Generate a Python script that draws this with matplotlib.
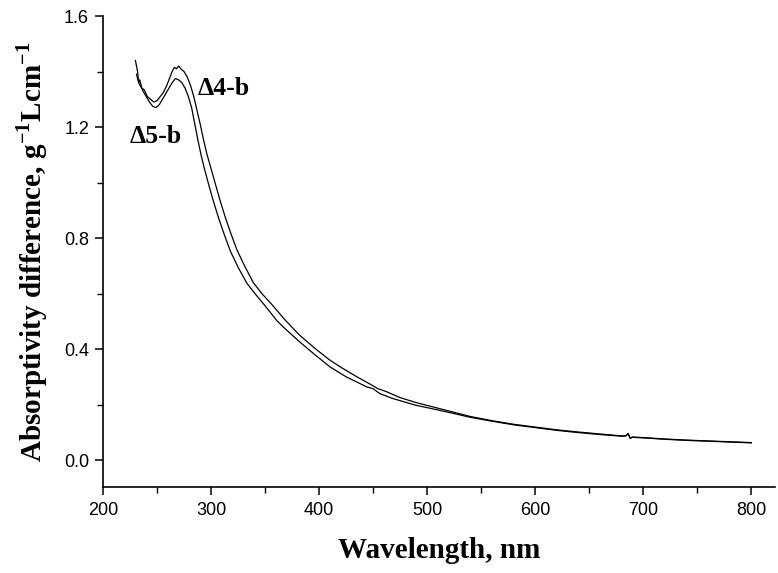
import matplotlib
matplotlib.use("Agg")
import matplotlib.pyplot as plt
from matplotlib.ticker import MultipleLocator

# Δ4-b (upper curve)
wl_4b = [230, 232, 233, 234, 236, 238, 241, 244, 247, 250, 253, 256, 259, 262, 264, 266, 268, 270,
         272, 275, 278, 281, 284, 287, 290, 293, 296, 300, 304, 308, 313, 318, 324, 331, 339, 347,
         356, 368, 382, 396, 410, 422, 435, 448, 454, 462, 475, 490, 500, 520, 540, 560, 580, 600,
         620, 640, 660, 680, 684, 686, 688, 690, 700, 720, 740, 760, 780, 800]
ab_4b = [1.44, 1.40, 1.36, 1.37, 1.34, 1.335, 1.31, 1.30, 1.29, 1.295, 1.31, 1.325, 1.35, 1.38, 1.40,
         1.415, 1.41, 1.42, 1.41, 1.40, 1.38, 1.35, 1.31, 1.26, 1.21, 1.155, 1.105, 1.05, 0.995, 0.94,
         0.877, 0.82, 0.757, 0.70, 0.640, 0.60, 0.562, 0.507, 0.45, 0.403, 0.36, 0.33, 0.30, 0.272,
         0.258, 0.247, 0.225, 0.207, 0.197, 0.177, 0.157, 0.142, 0.129, 0.119, 0.109, 0.101, 0.094,
         0.087, 0.088, 0.096, 0.079, 0.083, 0.081, 0.076, 0.072, 0.069, 0.066, 0.063]

# Δ5-b (lower curve)
wl_5b = [231, 233, 235, 237, 240, 243, 246, 249, 252, 255, 258, 261, 264, 267, 270, 273, 276, 279,
         282, 285, 288, 291, 294, 298, 302, 307, 312, 318, 325, 333, 341, 350, 361, 370, 382, 396,
         410, 425, 444, 450, 456, 468, 490, 500, 520, 540, 560, 580, 600, 620, 640, 660, 680, 684,
         686, 688, 690, 700, 720, 740, 760, 780, 800]
ab_5b = [1.39, 1.36, 1.345, 1.33, 1.31, 1.29, 1.275, 1.27, 1.28, 1.30, 1.32, 1.34, 1.36, 1.375, 1.37,
         1.36, 1.34, 1.31, 1.27, 1.21, 1.15, 1.095, 1.048, 0.99, 0.935, 0.872, 0.815, 0.752, 0.695,
         0.638, 0.598, 0.556, 0.502, 0.468, 0.426, 0.38, 0.336, 0.30, 0.264, 0.257, 0.24, 0.222,
         0.197, 0.189, 0.172, 0.154, 0.140, 0.127, 0.117, 0.107, 0.099, 0.092, 0.086, 0.087, 0.094,
         0.078, 0.082, 0.080, 0.075, 0.071, 0.068, 0.065, 0.062]

x_ticks = [200, 300, 400, 500, 600, 700, 800]
y_ticks = [0.0, 0.4, 0.8, 1.2, 1.6]

fig = plt.figure(figsize=(7.78, 5.73), dpi=100)
ax = fig.add_axes([0.1324, 0.1501, 0.8638, 0.8219])

ax.plot(wl_4b, ab_4b, color="black", lw=0.9)
ax.plot(wl_5b, ab_5b, color="black", lw=0.9)

ax.set_xlim(200, 822)
ax.set_ylim(-0.097, 1.6)
ax.set_xticks(x_ticks)
ax.set_yticks(y_ticks)
ax.set_yticklabels([f"{v:.1f}" for v in y_ticks])
ax.xaxis.set_minor_locator(MultipleLocator(50))
ax.yaxis.set_minor_locator(MultipleLocator(0.2))

for s in ["top", "right"]:
    ax.spines[s].set_visible(False)
for s in ["left", "bottom"]:
    ax.spines[s].set_linewidth(1.2)

ax.tick_params(which="major", direction="out", length=6, width=1.1, labelsize=13)
ax.tick_params(axis="x", which="major", pad=5)
ax.tick_params(axis="y", which="major", pad=4)
ax.tick_params(which="minor", direction="out", length=4, width=1.0)
for lab in ax.get_xticklabels() + ax.get_yticklabels():
    lab.set_family("Liberation Sans")

serif = "Liberation Serif"
ax.set_xlabel("Wavelength, nm", fontsize=21, fontweight="bold", family=serif, labelpad=13)
ax.set_ylabel(r"Absorptivity difference, g$^{\mathregular{-1}}$Lcm$^{\mathregular{-1}}$",
              fontsize=21, fontweight="bold", family=serif, labelpad=10)
ax.text(288, 1.315, "Δ4-b", fontsize=18.5, fontweight="bold", family=serif)
ax.text(225, 1.142, "Δ5-b", fontsize=18.5, fontweight="bold", family=serif)

fig.savefig("out.png", dpi=100)
